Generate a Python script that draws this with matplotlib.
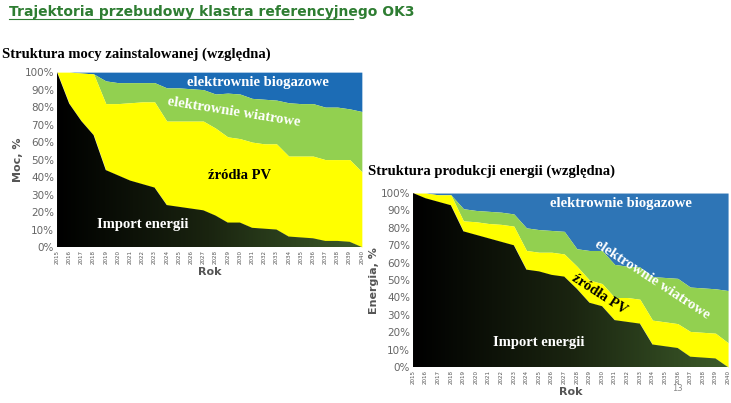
import numpy as np
import matplotlib.pyplot as plt
from matplotlib.colors import LinearSegmentedColormap

years = list(range(2015, 2041))

# left: installed capacity, cumulative tops (%)
moc_import = [100, 82, 72, 64, 44, 41, 38, 36, 34, 24, 23, 22, 21, 18, 14, 14, 11, 10.5, 10, 6, 5.5, 5, 3.5, 3.5, 3, 0]
moc_pv_top = [100, 100, 99.5, 99, 82, 82, 82.5, 83, 83, 72, 72, 72, 72, 68, 63, 62, 60, 59, 59, 52, 52, 52, 50, 50, 50, 43]
moc_wind_top = [100, 100, 99.5, 99, 95, 94, 94, 94, 94, 91, 91, 90.5, 90, 87.5, 88, 87.5, 85, 84.5, 84, 82.5, 82, 82, 80, 80, 79, 77.5]

# right: energy production, cumulative tops (%)
en_import = [100, 97, 95, 93, 78, 76, 74, 72, 70, 56, 55, 53, 52, 45, 37, 35, 27, 26, 25, 13, 12, 11, 6, 5.5, 5, 0]
en_pv_top = [100, 100, 99, 99, 84, 83.5, 82.5, 82, 81, 67, 66, 66, 65, 58, 50, 48, 40, 40, 39, 27, 26, 25, 20.5, 20, 19.5, 14]
en_wind_top = [100, 100, 99, 99, 91, 90, 89.5, 89, 88, 80, 79, 78.5, 78, 68, 67, 67, 59, 58, 57.5, 52, 51.5, 51, 46, 45.5, 45, 44]

grad = LinearSegmentedColormap.from_list("imp", ["#000000", "#1a2410", "#3d5c2a"])


def draw(ax, imp, pv, wind, blue, ylabel, labels):
    x = np.array(years)
    ax.fill_between(x, wind, 100, color=blue, lw=0)
    ax.fill_between(x, pv, wind, color="#92d050", lw=0)
    ax.fill_between(x, imp, pv, color="#ffff00", lw=0)
    poly = ax.fill_between(x, 0, imp, color="none", lw=0)
    img = ax.imshow(np.linspace(0, 1, 200)[None, :], cmap=grad, aspect="auto",
                    extent=(2015, 2040, 0, 100), zorder=1)
    img.set_clip_path(poly.get_paths()[0], transform=ax.transData)
    ax.set_xlim(2015, 2040)
    ax.set_ylim(0, 100)
    ax.set_xticks(years)
    ax.set_xticklabels([str(y) for y in years], rotation=90, fontsize=4, color="#555555")
    ax.set_yticks(range(0, 101, 10))
    ax.set_yticklabels([f"{v}%" for v in range(0, 101, 10)], fontsize=7.5, color="#666666")
    ax.tick_params(length=0, pad=2)
    for s in ax.spines.values():
        s.set_visible(False)
    ax.set_xlabel("Rok", fontsize=8, color="#555555", fontweight="bold", labelpad=2)
    ax.set_ylabel(ylabel, fontsize=8, color="#555555", fontweight="bold", labelpad=1)
    for (tx, ty, t, c, r) in labels:
        ax.text(tx, ty, t, color=c, fontsize=10.5, fontweight="bold", family="Liberation Serif",
                rotation=r, ha="center", va="center", zorder=3)


fig = plt.figure(figsize=(7.31, 4.03), dpi=100)
fig.text(0.012, 0.97, "Trajektoria przebudowy klastra referencyjnego OK3", color="#2e7d32",
         fontsize=10, fontweight="bold", va="center")
fig.add_artist(plt.Line2D([0.012, 0.483], [0.952, 0.952], color="#2e7d32", lw=0.8))

ax1 = fig.add_axes([0.078, 0.387, 0.417, 0.434])
fig.text(0.003, 0.865, "Struktura mocy zainstalowanej (względna)", fontsize=10.5,
         fontweight="bold", family="Liberation Serif", va="center")
draw(ax1, moc_import, moc_pv_top, moc_wind_top, "#1c6cb5", "Moc, %",
     [(2031.5, 94, "elektrownie biogazowe", "white", 0),
      (2029.5, 77, "elektrownie wiatrowe", "white", -9),
      (2030, 41, "źródła PV", "black", 0),
      (2022, 13, "Import energii", "white", 0)])

ax2 = fig.add_axes([0.565, 0.089, 0.431, 0.432])
fig.text(0.503, 0.575, "Struktura produkcji energii (względna)", fontsize=10.5,
         fontweight="bold", family="Liberation Serif", va="center")
draw(ax2, en_import, en_pv_top, en_wind_top, "#2e75b6", "Energia, %",
     [(2031.5, 94, "elektrownie biogazowe", "white", 0),
      (2034, 50, "elektrownie wiatrowe", "white", -33),
      (2029.8, 42, "źródła PV", "black", -33),
      (2025, 14, "Import energii", "white", 0)])

fig.text(0.92, 0.03, "13", fontsize=6, color="#888888")
fig.savefig("out.png", dpi=100)
